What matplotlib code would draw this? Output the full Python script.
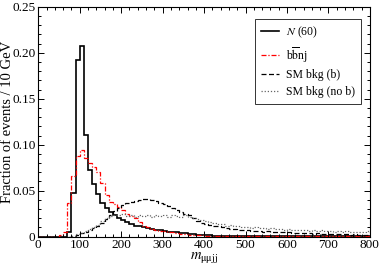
import numpy as np
import matplotlib
matplotlib.use("Agg")
import matplotlib.pyplot as plt
from matplotlib.ticker import MultipleLocator, FuncFormatter

plt.rcParams['font.family'] = ['Liberation Serif', 'DejaVu Serif']
plt.rcParams['mathtext.fontset'] = 'stix'

# 10 GeV bins from 0 to 800
edges = np.arange(0, 810, 10)

n60 = [0, 0, 0, 0, 0, 0, 0, 0.005, 0.047, 0.192,
       0.207, 0.111, 0.072, 0.057, 0.046, 0.037, 0.031, 0.027, 0.023, 0.020,
       0.018, 0.016, 0.014, 0.012, 0.011, 0.010, 0.009, 0.008, 0.0075, 0.007,
       0.006, 0.0055, 0.005, 0.0045, 0.004, 0.0035, 0.003, 0.0025, 0.002, 0.0018,
       0.0015, 0.0012, 0.001, 0.001, 0.0008, 0.0007, 0.0006, 0.0005, 0.0005, 0.0004,
       0.0004, 0.0003, 0.0003, 0.0003, 0.0002, 0.0002, 0.0002, 0.0002, 0.0002, 0.0001,
       0.0001, 0.0001, 0.0001, 0.0001, 0.0001, 0.0001, 0.0001, 0.0001, 0.0001, 0.0001,
       0.0001, 0.0001, 0.0001, 0.0001, 0.0001, 0.0001, 0.0001, 0.0001, 0.0001, 0.0001]

bbnj = [0, 0, 0, 0, 0, 0.002, 0.005, 0.036, 0.066, 0.088,
        0.094, 0.085, 0.080, 0.076, 0.070, 0.058, 0.045, 0.038, 0.035, 0.032,
        0.029, 0.025, 0.022, 0.020, 0.016, 0.012, 0.010, 0.008, 0.007, 0.0065,
        0.006, 0.005, 0.0045, 0.004, 0.003, 0.0025, 0.002, 0.0018, 0.0015, 0.0012,
        0.001, 0.001, 0.0009, 0.0008, 0.0007, 0.0006, 0.0006, 0.0005, 0.0005, 0.0004,
        0.0004, 0.0004, 0.0003, 0.0003, 0.0003, 0.0003, 0.0002, 0.0002, 0.0002, 0.0002,
        0.0002, 0.0002, 0.0002, 0.0001, 0.0001, 0.0001, 0.0001, 0.0001, 0.0001, 0.0001,
        0.0001, 0.0001, 0.0001, 0.0001, 0.0001, 0.0001, 0.0001, 0.0001, 0.0001, 0.0001]

sm_b = [0, 0, 0, 0, 0, 0, 0, 0, 0.001, 0.002,
        0.004, 0.005, 0.007, 0.009, 0.012, 0.015, 0.019, 0.024, 0.028, 0.031,
        0.034, 0.036, 0.038, 0.039, 0.040, 0.041, 0.041, 0.040, 0.039, 0.037,
        0.035, 0.033, 0.031, 0.029, 0.027, 0.025, 0.023, 0.020, 0.017, 0.015,
        0.014, 0.013, 0.012, 0.011, 0.010, 0.009, 0.0085, 0.008, 0.0075, 0.007,
        0.0075, 0.0065, 0.006, 0.006, 0.0055, 0.006, 0.005, 0.005, 0.0045, 0.0048,
        0.0045, 0.004, 0.0042, 0.0038, 0.004, 0.0035, 0.0033, 0.0035, 0.003, 0.0032,
        0.0028, 0.003, 0.0026, 0.0025, 0.0027, 0.0022, 0.0024, 0.002, 0.0022, 0.002]

sm_nob = [0, 0, 0, 0, 0, 0, 0, 0, 0.001, 0.003,
          0.004, 0.006, 0.008, 0.010, 0.013, 0.017, 0.020, 0.022, 0.024, 0.023,
          0.025, 0.022, 0.024, 0.021, 0.023, 0.022, 0.024, 0.021, 0.023, 0.022,
          0.024, 0.021, 0.023, 0.022, 0.021, 0.023, 0.021, 0.020, 0.019, 0.018,
          0.017, 0.016, 0.015, 0.014, 0.0135, 0.012, 0.0125, 0.011, 0.0115, 0.010,
          0.0105, 0.0095, 0.010, 0.009, 0.0095, 0.0085, 0.009, 0.008, 0.0085, 0.0075,
          0.008, 0.007, 0.0075, 0.0068, 0.0072, 0.0065, 0.0075, 0.0062, 0.0068, 0.006,
          0.0065, 0.0055, 0.006, 0.0052, 0.0058, 0.005, 0.0055, 0.0048, 0.0052, 0.0058]

fig = plt.figure(figsize=(3.79, 2.67), dpi=100)
ax = fig.add_axes([0.101, 0.114, 0.875, 0.860])

ax.stairs(n60, edges, color='black', lw=1.2, label='$N$ (60)')
ax.stairs(bbnj, edges, color='red', lw=0.9, linestyle=(0, (4, 1.5, 1, 1.5)),
          label=r'b$\overline{\rm b}$nj')
ax.stairs(sm_b, edges, color='black', lw=0.9, linestyle=(0, (4, 2)), label='SM bkg (b)')
ax.stairs(sm_nob, edges, color='#666666', lw=0.9, linestyle=(0, (1, 1.5)),
          label='SM bkg (no b)')

ax.set_xlim(0, 800)
ax.set_ylim(0, 0.25)
ax.xaxis.set_major_locator(MultipleLocator(100))
ax.xaxis.set_minor_locator(MultipleLocator(20))
ax.yaxis.set_major_locator(MultipleLocator(0.05))
ax.yaxis.set_minor_locator(MultipleLocator(0.01))
ax.yaxis.set_major_formatter(FuncFormatter(lambda v, p: '0' if abs(v) < 1e-9 else '%.2f' % v))
ax.tick_params(which='both', direction='in', top=True, right=True, labelsize=9.5, width=0.7)
ax.tick_params(which='major', length=4, pad=2)
ax.tick_params(which='minor', length=2)
for s in ax.spines.values():
    s.set_linewidth(0.8)

ax.set_xlabel(r'$m_{\rm \mu\mu jj}$', fontsize=10.5, labelpad=-1)
ax.set_ylabel('Fraction of events / 10 GeV', fontsize=10.5)
ax.yaxis.set_label_coords(-0.073, 0.5)

leg = ax.legend(loc='upper right', bbox_to_anchor=(0.99, 0.975), fontsize=8.5,
                handlelength=1.5, frameon=True, fancybox=False, borderpad=0.5,
                labelspacing=0.4, handletextpad=0.6)
leg.get_frame().set_edgecolor('black')
leg.get_frame().set_linewidth(0.7)

fig.savefig('out.png', dpi=100)
